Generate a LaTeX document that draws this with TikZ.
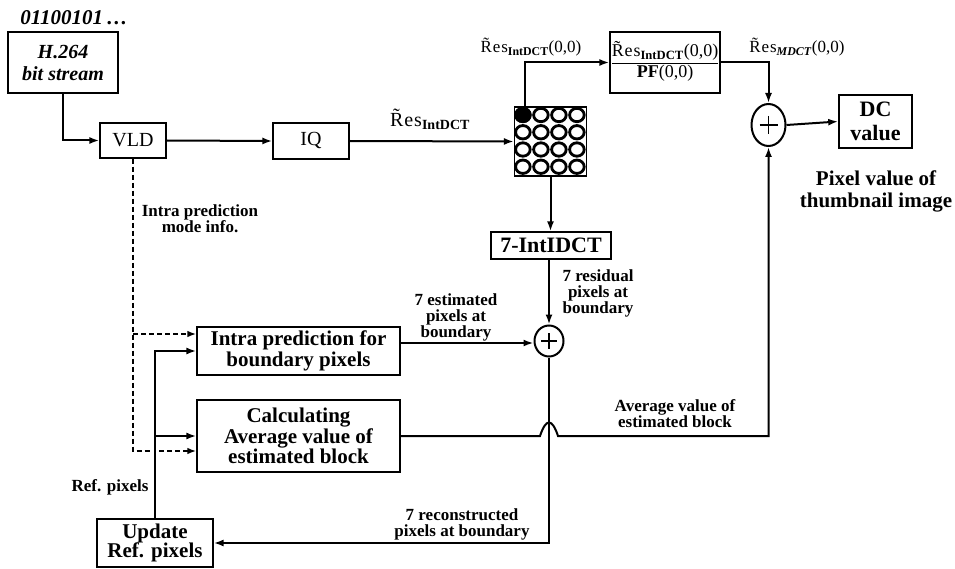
\documentclass[tikz,border=0pt]{standalone}
\usepackage{fontspec}
\setmainfont{Liberation Serif}
\usetikzlibrary{arrows.meta,calc,shapes.geometric}
\newcommand\tRes{\~{R}\kern0.05em e\kern0.05em s}
\setlength\arrayrulewidth{1.2pt}
\begin{document}
\begin{tikzpicture}[x=1pt,y=-1pt,
  box/.style={draw,line width=1.2pt,inner sep=0pt,align=center},
  arr/.style={line width=2pt,-{Latex[length=10pt,width=7pt]}},
  dsh/.style={line width=1.7pt,dash pattern=on 5pt off 3pt},
  bx/.style={font=\fontsize{21}{20.5}\selectfont\bfseries},
  lb/.style={font=\fontsize{17}{16}\selectfont\bfseries,align=center,inner sep=0pt},
  sumnode/.style={draw,ellipse,line width=2pt,inner sep=0pt}]
\useasboundingbox (0,0) rectangle (955,569);

% boxes
\node[font=\fontsize{21}{20}\selectfont\bfseries\itshape,inner sep=0pt] (bits) at (74,18) {01100101\,\dots};
\node[box,minimum width=110,minimum height=61,font=\fontsize{20}{22}\selectfont\bfseries\itshape] (h264) at (63,62.5) {H.264\\bit stream};
\node[box,minimum width=66,minimum height=35,font=\fontsize{20}{20}\selectfont] (vld) at (133,140.5) {VLD};
\node[box,minimum width=76,minimum height=36,font=\fontsize{20}{20}\selectfont] (iq) at (311,141) {IQ};
\node[draw,line width=1.2pt,minimum width=72,minimum height=69,inner sep=0pt] (grid) at (550.5,141.5) {};
\foreach \i in {0,...,3} \foreach \j in {0,...,3}
  \draw[line width=2.8pt] ($(grid.north west)+(9+18*\i,8.6+17.25*\j)$) ellipse (7.3 and 6.7);
\fill ($(grid.north west)+(9,8.6)$) ellipse (8.7 and 8.1);
\node[box,minimum width=110,minimum height=61,font=\fontsize{18}{20}\selectfont] (pf) at (665,62.5)
  {\begin{tabular}{@{}c@{}}\tRes\textsubscript{\textbf{IntDCT}}(0,0)\\\hline\textbf{PF}(0,0)\end{tabular}};
\node[sumnode,minimum width=34,minimum height=42] (sum1) at (768.5,125) {};
\node[box,line width=1.6pt,minimum width=73,minimum height=53,font=\fontsize{22}{24}\selectfont\bfseries] (dc) at (875.5,121.5) {DC\\value};
\node[box,minimum width=120,minimum height=27,font=\fontsize{22}{22}\selectfont\bfseries] (idct) at (551,245.5) {7-IntIDCT};
\node[sumnode,minimum width=29,minimum height=31] (sum2) at (549,341) {};
\node[box,bx,minimum width=203,minimum height=48] (intra) at (298.5,351) {Intra prediction for\\boundary pixels};
\node[box,bx,minimum width=203,minimum height=72] (calc) at (298.5,436) {Calculating\\Average value of\\estimated block};
\node[box,font=\fontsize{21}{19.5}\selectfont\bfseries,minimum width=116,minimum height=48] (upd) at (155,543) {Update\\Ref. pixels};

% plus signs
\foreach \s/\r in {sum1/9,sum2/8}{
  \draw[line width=1.6pt] ($(\s)+(-\r,0)$) -- ($(\s)+(\r,0)$);
  \draw[line width=1.6pt] ($(\s)+(0,-\r)$) -- ($(\s)+(0,\r)$);
}

% connectors
\draw[arr] (h264.south) |- (vld.west);
\draw[arr] (vld.east) -- (iq.west);
\draw[arr] (iq.east) -- (grid.west);
\coordinate (dcpt) at ($(grid.north west)+(11,0)$);
\draw[arr] (dcpt) |- (pf.west);
\draw[arr] (pf.east) -| (sum1.north);
\draw[arr] (sum1.east) -- (dc.west);
\draw[arr] (grid.south) -- (grid.south |- idct.north);
\draw[arr] (sum2.north |- idct.south) -- (sum2.north);
\draw[arr] ($(intra.east |- sum2.west)+(0,2)$) -- ($(sum2.west)+(0,2)$);
\coordinate (hopL) at ($(sum2.south |- calc.east)+(-9,0)$);
\coordinate (hopR) at ($(sum2.south |- calc.east)+(9,0)$);
\draw[arr] (calc.east) -- (hopL) .. controls ($(hopL)+(6,-18)$) and ($(hopR)+(-6,-18)$) .. (hopR) -| (sum1.south);
\draw[arr] (sum2.south) |- (upd.east);
\draw[arr] (upd.north) |- (intra.west);
\draw[arr] (upd.north |- calc.west) -- (calc.west);
\coordinate (dA) at ($(intra.west)+(0,-17)$);
\coordinate (dB) at ($(calc.west)+(0,15)$);
\draw[dsh] (vld.south) -- (vld.south |- dB) -- ($(upd.north |- dB)+(-4,0)$);
\draw[dsh,-{Latex[length=9pt,width=6.5pt]}] ($(upd.north |- dB)+(4,0)$) -- (dB);
\draw[dsh,-{Latex[length=9pt,width=6.5pt]}] (vld.south |- dA) -- (dA);

% labels
\node[lb] (l1) at (200,219) {Intra prediction\\mode info.};
\node[lb] (l2) at (110,487) {Ref. pixels};
\node[lb] (l3) at (462,524) {7 reconstructed\\pixels at boundary};
\node[lb] (l4) at (456,317) {7 estimated\\pixels at\\boundary};
\node[lb] (l5) at (598,293) {7 residual\\pixels at\\boundary};
\node[lb] (l6) at (675,414) {Average value of\\estimated block};
\node[font=\fontsize{21}{22}\selectfont\bfseries,align=center,inner sep=0pt] (l7) at (876,191) {Pixel value of\\thumbnail image};
\node[font=\fontsize{20}{20}\selectfont,inner sep=0pt] (l8) at (430,119) {\tRes\textsubscript{\textbf{IntDCT}}};
\node[font=\fontsize{17}{18}\selectfont,inner sep=0pt] (l9) at (531,47) {\tRes\textsubscript{\textbf{IntDCT}}(0,0)};
\node[font=\fontsize{17}{18}\selectfont,inner sep=0pt] (l10) at (797,47) {\tRes\textsubscript{\textbf{\textit{MDCT}}}(0,0)};
\end{tikzpicture}
\end{document}
